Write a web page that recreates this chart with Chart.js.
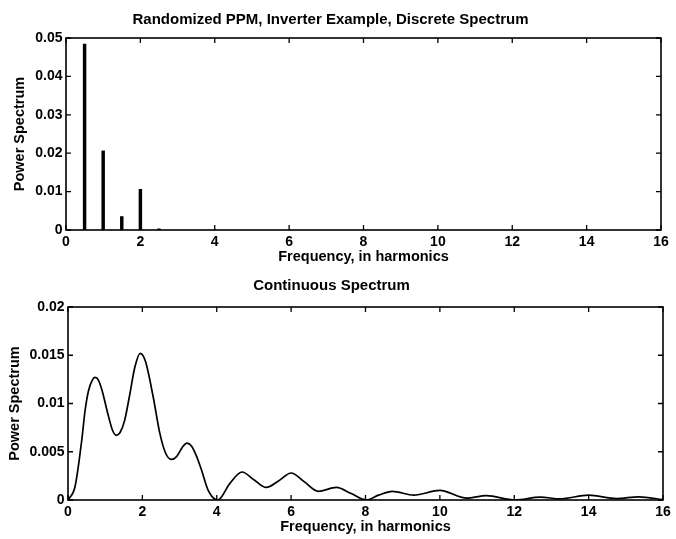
<!DOCTYPE html>
<html><head><meta charset="utf-8">
<script src="https://cdn.jsdelivr.net/npm/chart.js@4"></script>
<style>
html,body{margin:0;padding:0;background:#fff;}
#wrap{position:relative;width:676px;height:539px;overflow:hidden;}
#c1{position:absolute;left:0;top:0;}
#c2{position:absolute;left:0;top:266px;}
</style></head><body>
<div id="wrap"><canvas id="c1" width="676" height="266"></canvas><canvas id="c2" width="676" height="273"></canvas></div>
<script>
// ---- data ----
const topTitle = 'Randomized PPM, Inverter Example, Discrete Spectrum';
const bottomTitle = 'Continuous Spectrum';
const xTitle = 'Frequency, in harmonics';
const yTitle = 'Power Spectrum';

const discreteFreq = [0.5, 1, 1.5, 2, 2.5];
const discretePower = [0.0484, 0.0206, 0.0035, 0.0106, 0.0003];

const contFreq = [0, 0.19, 0.37, 0.46, 0.55, 0.65, 0.73, 0.82, 0.92, 1.08, 1.2, 1.3, 1.4, 1.52, 1.65, 1.8, 1.94, 2.08, 2.29, 2.47, 2.62, 2.78, 2.92, 3.08, 3.2, 3.32, 3.45, 3.59, 3.77, 4.03, 4.35, 4.68, 5.0, 5.33, 5.67, 6.0, 6.35, 6.73, 7.22, 7.6, 8.03, 8.35, 8.72, 9.3, 10.0, 10.72, 11.25, 12.02, 12.7, 13.23, 14.0, 14.75, 15.35, 16];
const contPower = [0, 0.0014, 0.0062, 0.0093, 0.0113, 0.0124, 0.0127, 0.0124, 0.0113, 0.0088, 0.0072, 0.0067, 0.0070, 0.0082, 0.0107, 0.0138, 0.0152, 0.0144, 0.0107, 0.0069, 0.0049, 0.0042, 0.0045, 0.0055, 0.0059, 0.0056, 0.0046, 0.0031, 0.0010, 0, 0.0017, 0.0029, 0.0021, 0.0013, 0.0020, 0.0028, 0.0019, 0.0009, 0.0013, 0.0007, 0, 0.0005, 0.0009, 0.0005, 0.0010, 0.0002, 0.00045, 0, 0.0003, 0.00012, 0.0005, 0.00015, 0.00033, 0.00003];

const xTickLabels = ['0', '2', '4', '6', '8', '10', '12', '14', '16'];
const topYTickLabels = ['0', '0.01', '0.02', '0.03', '0.04', '0.05'];
const bottomYTickLabels = ['0', '0.005', '0.01', '0.015', '0.02'];

// ---- styling ----
const FONT = '"Liberation Sans", Arial, Helvetica, sans-serif';
Chart.defaults.font.family = FONT;
Chart.defaults.color = '#000';

const boxPlugin = {
  id: 'matlabBox',
  afterDraw(chart) {
    const {ctx, chartArea: a, scales: {x, y}} = chart;
    ctx.save();
    ctx.strokeStyle = '#000';
    ctx.lineWidth = 1.6;
    ctx.strokeRect(a.left, a.top, a.right - a.left, a.bottom - a.top);
    const L = 5;
    ctx.beginPath();
    x.ticks.forEach(t => {
      const px = x.getPixelForValue(t.value);
      ctx.moveTo(px, a.bottom); ctx.lineTo(px, a.bottom - L);
      ctx.moveTo(px, a.top); ctx.lineTo(px, a.top + L);
    });
    y.ticks.forEach(t => {
      const py = y.getPixelForValue(t.value);
      ctx.moveTo(a.left, py); ctx.lineTo(a.left + L, py);
      ctx.moveTo(a.right, py); ctx.lineTo(a.right - L, py);
    });
    ctx.lineWidth = 1.3;
    ctx.stroke();
    ctx.restore();
  }
};

function makeOptions(cfg) {
  return {
    responsive: false, animation: false, devicePixelRatio: 1,
    layout: {padding: {left: 0, right: cfg.right, top: 0, bottom: 0}},
    plugins: {
      legend: {display: false}, tooltip: {enabled: false},
      title: {display: true, text: cfg.title, color: '#000',
        font: {family: FONT, size: 15, weight: 'bold'},
        padding: {top: cfg.titleTop, bottom: cfg.titleBottom}}
    },
    scales: {
      x: {
        type: 'linear', min: 0, max: 16, offset: false,
        ticks: {stepSize: 2, autoSkip: false, maxRotation: 0, padding: 3.6, color: '#000',
          font: {family: FONT, size: 14, weight: 'bold'},
          callback: (v, i) => xTickLabels[i]},
        grid: {display: false, drawTicks: false}, border: {display: false},
        title: {display: true, text: xTitle, color: '#000',
          font: {family: FONT, size: 14.5, weight: 'bold'}, padding: {top: 0, bottom: cfg.xTitlePad}},
        afterFit(s) { s.height = cfg.xHeight; s.paddingLeft = 0; s.paddingRight = 0; }
      },
      y: {
        min: 0, max: cfg.yMax,
        ticks: {stepSize: cfg.yStep, autoSkip: false, padding: 3.5, color: '#000',
          font: {family: FONT, size: 14, weight: 'bold'},
          callback: (v, i) => cfg.yLabels[i]},
        grid: {display: false, drawTicks: false}, border: {display: false},
        title: {display: true, text: yTitle, color: '#000',
          font: {family: FONT, size: 14.5, weight: 'bold'}, padding: {top: cfg.yTitlePad, bottom: 0}},
        afterFit(s) { s.width = cfg.yWidth; s.paddingTop = 0; s.paddingBottom = 0; }
      }
    }
  };
}

new Chart(document.getElementById('c1'), {
  type: 'bar',
  data: {datasets: [{
    data: discreteFreq.map((f, i) => ({x: f, y: discretePower[i]})),
    backgroundColor: '#000', borderWidth: 0, barThickness: 2.8
  }]},
  options: makeOptions({title: topTitle, right: 15, titleTop: 10.5, titleBottom: 9.5,
    xHeight: 36, xTitlePad: 0, yWidth: 66, yTitlePad: 11.3,
    yMax: 0.05, yStep: 0.01, yLabels: topYTickLabels}),
  plugins: [boxPlugin]
});

new Chart(document.getElementById('c2'), {
  type: 'line',
  data: {datasets: [{
    data: contFreq.map((f, i) => ({x: f, y: contPower[i]})),
    borderColor: '#000', borderWidth: 1.7, pointRadius: 0, fill: false,
    cubicInterpolationMode: 'monotone'
  }]},
  options: makeOptions({title: bottomTitle, right: 13, titleTop: 11, titleBottom: 12,
    xHeight: 39, xTitlePad: 3.3, yWidth: 68, yTitlePad: 5.8,
    yMax: 0.02, yStep: 0.005, yLabels: bottomYTickLabels}),
  plugins: [boxPlugin]
});
</script>
</body></html>
